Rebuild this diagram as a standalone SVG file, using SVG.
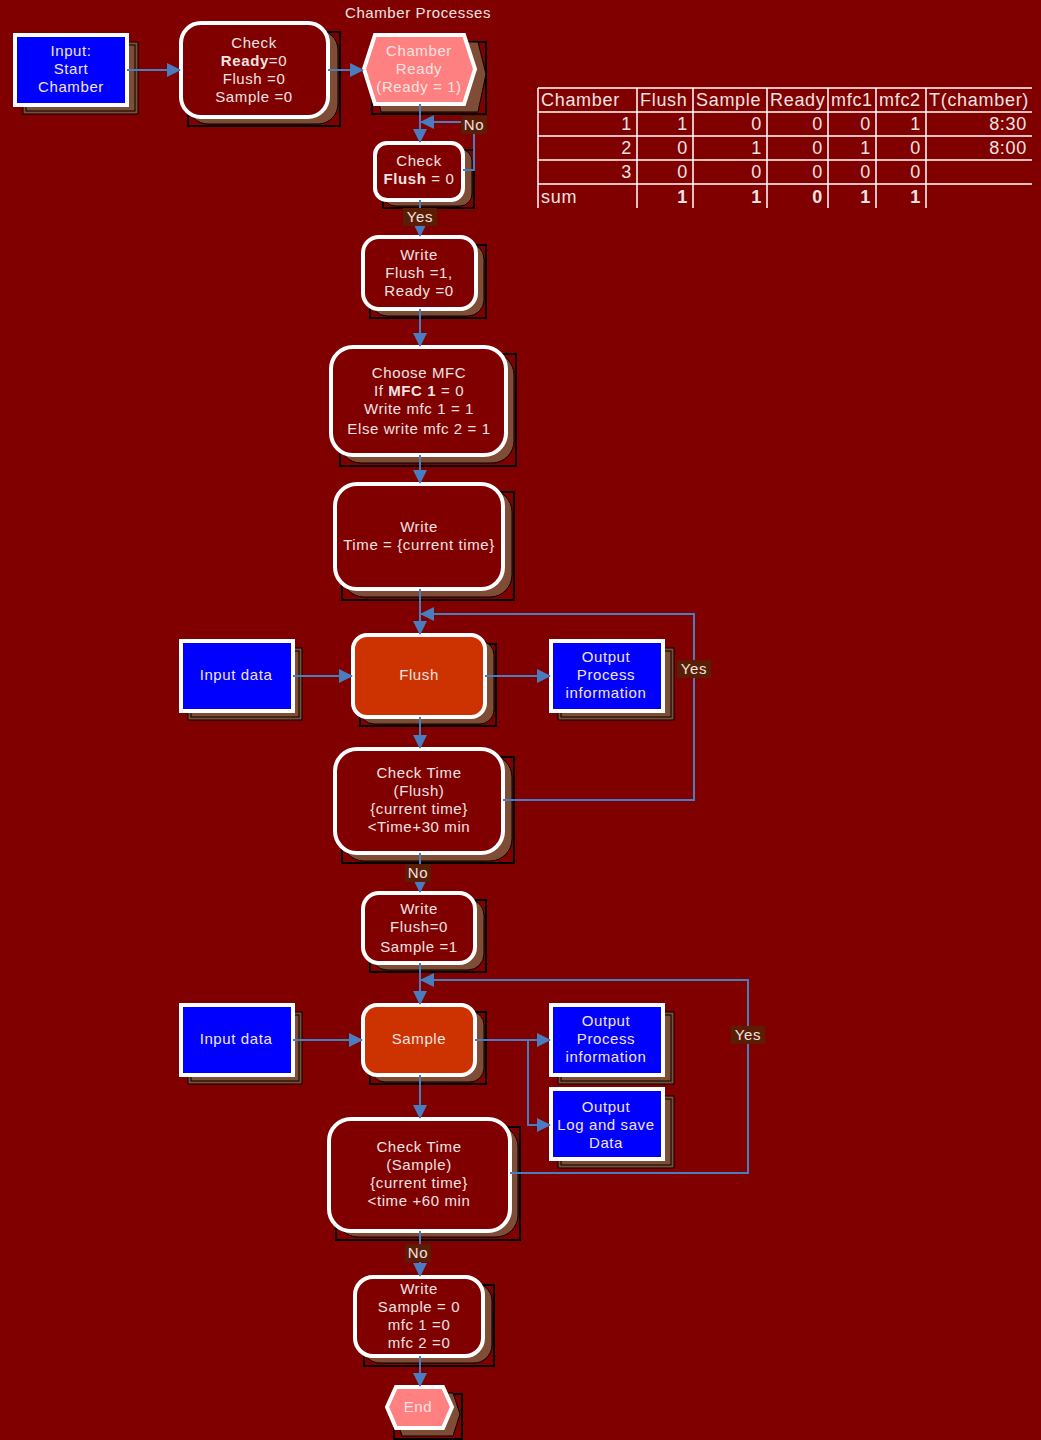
<svg xmlns="http://www.w3.org/2000/svg" width="1041" height="1440" viewBox="0 0 1041 1440">
<defs>
<marker id="ah" viewBox="0 0 14 14" refX="13" refY="7" markerWidth="14" markerHeight="14" markerUnits="userSpaceOnUse" orient="auto">
<path d="M0,0 L14,7 L0,14 Z" fill="#4a7cc0"/>
</marker>
<style>
text{font-family:"Liberation Sans",Arial,sans-serif;font-size:15px;letter-spacing:0.6px;fill:#f3e3e3;text-anchor:middle}
.b{font-weight:bold}
.frame{fill:none;stroke:#000;stroke-width:2}
.sh{fill:#7f4c35;stroke:#000;stroke-width:1}
.rnd{fill:#800000;stroke:#fff;stroke-width:4}
.blue{fill:#0000ff;stroke:#fff;stroke-width:4}
.org{fill:#cc3300;stroke:#fff;stroke-width:4}
.hex{fill:#ff8080;stroke:#fff;stroke-width:4}
.ca{fill:none;stroke:#4a7cc0;stroke-width:2;marker-end:url(#ah)}
.lb{fill:#5a1e05}
.tbl line{stroke:#fff;stroke-width:1.5}
.tbl text{font-size:18px;letter-spacing:0.7px;text-anchor:end}
.tl{text-anchor:start!important}
</style>
</defs>
<rect width="1041" height="1440" fill="#800000"/>
<text x="418" y="18">Chamber Processes</text>

<g id="n_input_start">
<rect class="sh" x="23" y="42" width="115" height="72"/>
<rect class="frame" x="26" y="45" width="109" height="66" style="stroke-width:1"/>
<rect class="blue" x="15" y="35" width="112" height="70"/>
<text x="71" y="56">Input:</text><text x="71" y="74">Start</text><text x="71" y="92">Chamber</text>
</g>

<g id="n_check_ready">
<rect class="frame" x="188" y="32" width="152" height="94"/>
<rect class="sh" x="188" y="30" width="150" height="94" rx="20"/>
<rect class="rnd" x="181" y="23" width="147" height="94" rx="20"/>
<text x="254" y="48">Check</text>
<text x="254" y="66"><tspan class="b">Ready</tspan>=0</text>
<text x="254" y="84">Flush =0</text>
<text x="254" y="102">Sample =0</text>
</g>

<g id="n_chamber_ready">
<rect class="frame" x="372" y="42" width="114" height="72"/>
<polygon class="sh" points="381,42 478,42 486,74 478,112 381,112 373,74"/>
<polygon class="hex" points="375,35 464,35 475,69 464,104 375,104 364,69"/>
<text x="419" y="56">Chamber</text><text x="419" y="74">Ready</text><text x="419" y="92">(Ready = 1)</text>
</g>

<g id="n_check_flush">
<rect class="frame" x="383" y="150" width="91" height="58"/>
<rect class="sh" x="383" y="149" width="89" height="57" rx="12"/>
<rect class="rnd" x="375" y="143" width="88" height="57" rx="12"/>
<text x="419" y="166">Check</text>
<text x="419" y="184"><tspan class="b">Flush</tspan> = 0</text>
</g>

<g id="n_write_flush1">
<rect class="frame" x="370" y="245" width="116" height="73"/>
<rect class="sh" x="371" y="243" width="113" height="73" rx="16"/>
<rect class="rnd" x="363" y="237" width="113" height="72" rx="16"/>
<text x="419" y="260">Write</text><text x="419" y="278">Flush =1,</text><text x="419" y="296">Ready =0</text>
</g>

<g id="n_choose_mfc">
<rect class="frame" x="340" y="354" width="176" height="112"/>
<rect class="sh" x="339" y="353" width="175" height="110" rx="22"/>
<rect class="rnd" x="331" y="347" width="175" height="108" rx="22"/>
<text x="419" y="378">Choose MFC</text>
<text x="419" y="396">If <tspan class="b">MFC 1</tspan> = 0</text>
<text x="419" y="414">Write mfc 1 = 1</text>
<text x="419" y="434">Else write mfc 2 = 1</text>
</g>

<g id="n_write_time">
<rect class="frame" x="342" y="492" width="172" height="108"/>
<rect class="sh" x="342" y="490" width="170" height="107" rx="22"/>
<rect class="rnd" x="335" y="484" width="168" height="105" rx="22"/>
<text x="419" y="532">Write</text><text x="419" y="550">Time = {current time}</text>
</g>

<g id="n_input_data1">
<rect class="sh" x="188" y="648" width="114" height="72"/>
<rect class="frame" x="191" y="651" width="108" height="66" style="stroke-width:1"/>
<rect class="blue" x="181" y="641" width="112" height="70"/>
<text x="236" y="680">Input data</text>
</g>

<g id="n_flush">
<rect class="frame" x="360" y="644" width="136" height="82"/>
<rect class="sh" x="360" y="641" width="134" height="83" rx="14"/>
<rect class="org" x="353" y="635" width="132" height="82" rx="14"/>
<text x="419" y="680">Flush</text>
</g>

<g id="n_output1">
<rect class="sh" x="558" y="648" width="116" height="72"/>
<rect class="frame" x="561" y="651" width="110" height="66" style="stroke-width:1"/>
<rect class="blue" x="551" y="641" width="112" height="70"/>
<text x="606" y="662">Output</text><text x="606" y="680">Process</text><text x="606" y="698">information</text>
</g>

<g id="n_check_time_flush">
<rect class="frame" x="342" y="757" width="172" height="106"/>
<rect class="sh" x="342" y="755" width="170" height="106" rx="22"/>
<rect class="rnd" x="335" y="749" width="168" height="104" rx="22"/>
<text x="419" y="778">Check Time</text><text x="419" y="796">(Flush)</text><text x="419" y="814">{current time}</text><text x="419" y="832">&lt;Time+30 min</text>
</g>

<g id="n_write_flush0">
<rect class="frame" x="370" y="900" width="116" height="72"/>
<rect class="sh" x="371" y="899" width="113" height="71" rx="16"/>
<rect class="rnd" x="363" y="893" width="112" height="70" rx="16"/>
<text x="419" y="914">Write</text><text x="419" y="932">Flush=0</text><text x="419" y="952">Sample =1</text>
</g>

<g id="n_input_data2">
<rect class="sh" x="188" y="1012" width="114" height="72"/>
<rect class="frame" x="191" y="1015" width="108" height="66" style="stroke-width:1"/>
<rect class="blue" x="181" y="1005" width="112" height="70"/>
<text x="236" y="1044">Input data</text>
</g>

<g id="n_sample">
<rect class="frame" x="370" y="1012" width="116" height="72"/>
<rect class="sh" x="371" y="1011" width="113" height="71" rx="14"/>
<rect class="org" x="363" y="1005" width="112" height="70" rx="14"/>
<text x="419" y="1044">Sample</text>
</g>

<g id="n_output2">
<rect class="sh" x="558" y="1012" width="116" height="72"/>
<rect class="frame" x="561" y="1015" width="110" height="66" style="stroke-width:1"/>
<rect class="blue" x="551" y="1005" width="112" height="70"/>
<text x="606" y="1026">Output</text><text x="606" y="1044">Process</text><text x="606" y="1062">information</text>
</g>

<g id="n_output_log">
<rect class="sh" x="558" y="1096" width="116" height="72"/>
<rect class="frame" x="561" y="1099" width="110" height="66" style="stroke-width:1"/>
<rect class="blue" x="551" y="1089" width="112" height="70"/>
<text x="606" y="1112">Output</text><text x="606" y="1130">Log and save</text><text x="606" y="1148">Data</text>
</g>

<g id="n_check_time_sample">
<rect class="frame" x="336" y="1127" width="184" height="113"/>
<rect class="sh" x="336" y="1125" width="182" height="112" rx="22"/>
<rect class="rnd" x="329" y="1119" width="181" height="112" rx="22"/>
<text x="419" y="1152">Check Time</text><text x="419" y="1170">(Sample)</text><text x="419" y="1188">{current time}</text><text x="419" y="1206">&lt;time +60 min</text>
</g>

<g id="n_write_sample0">
<rect class="frame" x="364" y="1285" width="130" height="81"/>
<rect class="sh" x="362" y="1283" width="130" height="80" rx="18"/>
<rect class="rnd" x="355" y="1277" width="128" height="79" rx="18"/>
<text x="419" y="1294">Write</text><text x="419" y="1312">Sample = 0</text><text x="419" y="1330">mfc 1 =0</text><text x="419" y="1348">mfc 2 =0</text>
</g>

<g id="n_end">
<rect class="frame" x="394" y="1394" width="68" height="45"/>
<polygon class="sh" points="402,1393 453,1393 460,1414 453,1436 402,1436 395,1414"/>
<polygon class="hex" points="396,1387 443,1387 452,1407 443,1428 396,1428 387,1407"/>
<text x="418" y="1412">End</text>
</g>

<g id="connectors">
<line class="ca" x1="127" y1="70" x2="180" y2="70"/>
<line class="ca" x1="328" y1="70" x2="363" y2="70"/>
<line class="ca" x1="420" y1="104" x2="420" y2="142"/>
<polyline class="ca" points="463,170 474,170 474,122 421,122"/>
<line class="ca" x1="420" y1="200" x2="420" y2="236"/>
<line class="ca" x1="420" y1="309" x2="420" y2="346"/>
<line class="ca" x1="420" y1="455" x2="420" y2="483"/>
<line class="ca" x1="420" y1="589" x2="420" y2="634"/>
<line class="ca" x1="293" y1="676" x2="352" y2="676"/>
<line class="ca" x1="485" y1="676" x2="550" y2="676"/>
<line class="ca" x1="420" y1="717" x2="420" y2="748"/>
<polyline class="ca" points="503,800 694,800 694,614 421,614"/>
<line class="ca" x1="420" y1="853" x2="420" y2="892"/>
<line class="ca" x1="420" y1="963" x2="420" y2="1004"/>
<line class="ca" x1="293" y1="1040" x2="362" y2="1040"/>
<line class="ca" x1="475" y1="1040" x2="550" y2="1040"/>
<polyline class="ca" points="528,1040 528,1125 550,1125"/>
<line class="ca" x1="420" y1="1075" x2="420" y2="1118"/>
<polyline class="ca" points="510,1173 748,1173 748,980 421,980"/>
<line class="ca" x1="420" y1="1231" x2="420" y2="1276"/>
<line class="ca" x1="420" y1="1356" x2="420" y2="1386"/>
<rect class="lb" x="461" y="116" width="26" height="18"/><text x="474" y="130">No</text>
<rect class="lb" x="403" y="208" width="34" height="18"/><text x="420" y="222">Yes</text>
<rect class="lb" x="677" y="660" width="34" height="18"/><text x="694" y="674">Yes</text>
<rect class="lb" x="405" y="864" width="26" height="18"/><text x="418" y="878">No</text>
<rect class="lb" x="731" y="1026" width="34" height="18"/><text x="748" y="1040">Yes</text>
<rect class="lb" x="405" y="1244" width="26" height="18"/><text x="418" y="1258">No</text>
</g>

<g id="table" class="tbl">
<line x1="538" y1="88" x2="1032" y2="88"/>
<line x1="538" y1="112" x2="1032" y2="112"/>
<line x1="538" y1="136" x2="1032" y2="136"/>
<line x1="538" y1="160" x2="1032" y2="160"/>
<line x1="538" y1="184" x2="1032" y2="184"/>
<line x1="538" y1="88" x2="538" y2="208"/>
<line x1="637" y1="88" x2="637" y2="208"/>
<line x1="693" y1="88" x2="693" y2="208"/>
<line x1="767" y1="88" x2="767" y2="208"/>
<line x1="828" y1="88" x2="828" y2="208"/>
<line x1="876" y1="88" x2="876" y2="208"/>
<line x1="926" y1="88" x2="926" y2="208"/>
<text class="tl" x="541" y="106">Chamber</text>
<text class="tl" x="640" y="106">Flush</text>
<text class="tl" x="696" y="106">Sample</text>
<text class="tl" x="770" y="106">Ready</text>
<text class="tl" x="831" y="106">mfc1</text>
<text class="tl" x="879" y="106">mfc2</text>
<text class="tl" x="929" y="106">T(chamber)</text>
<text x="632" y="130">1</text><text x="688" y="130">1</text><text x="762" y="130">0</text><text x="823" y="130">0</text><text x="871" y="130">0</text><text x="921" y="130">1</text><text x="1027" y="130">8:30</text>
<text x="632" y="154">2</text><text x="688" y="154">0</text><text x="762" y="154">1</text><text x="823" y="154">0</text><text x="871" y="154">1</text><text x="921" y="154">0</text><text x="1027" y="154">8:00</text>
<text x="632" y="178">3</text><text x="688" y="178">0</text><text x="762" y="178">0</text><text x="823" y="178">0</text><text x="871" y="178">0</text><text x="921" y="178">0</text>
<text class="tl" x="541" y="203">sum</text>
<text class="b" x="688" y="203">1</text><text class="b" x="762" y="203">1</text><text class="b" x="823" y="203">0</text><text class="b" x="871" y="203">1</text><text class="b" x="921" y="203">1</text>
</g>
</svg>
